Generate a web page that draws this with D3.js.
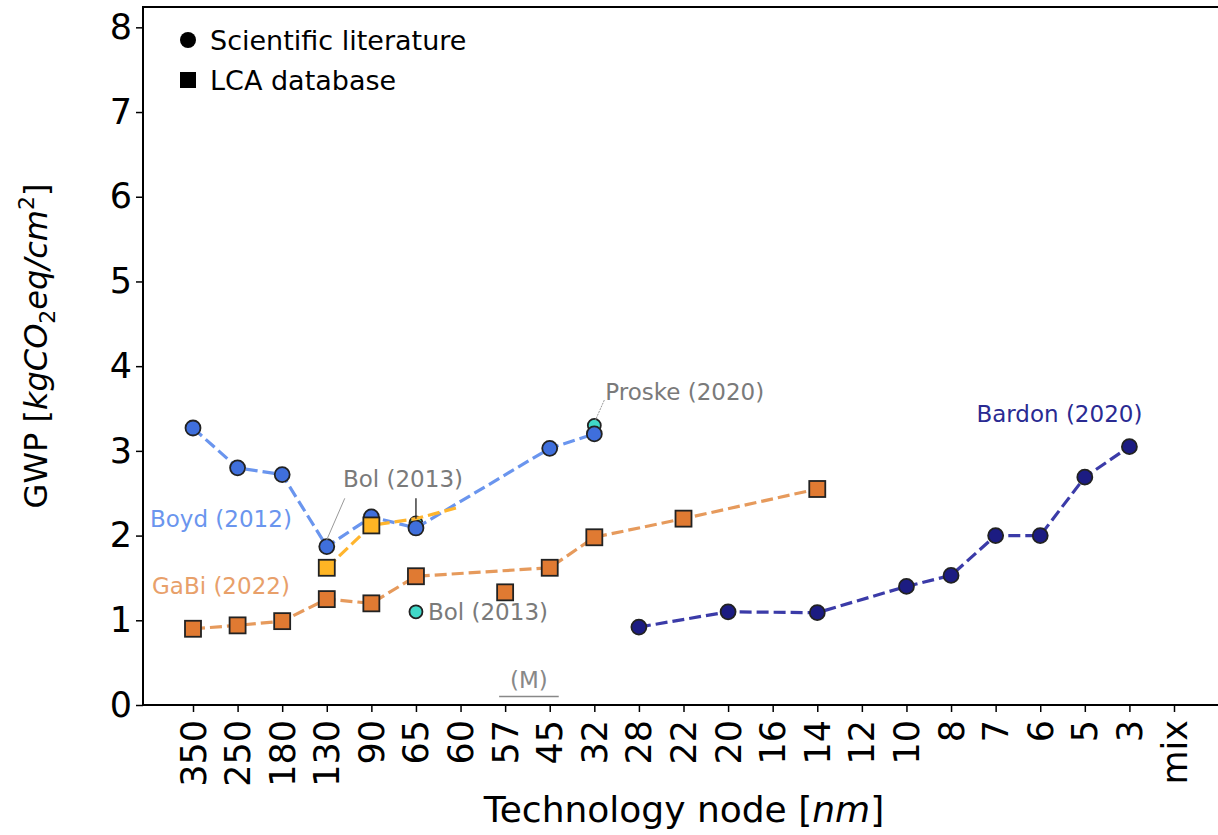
<!DOCTYPE html>
<html>
<head>
<meta charset="utf-8">
<script src="https://cdn.jsdelivr.net/npm/d3@7"></script>
<style>
  body { margin: 0; background: #fff; }
  svg { display: block; font-family: "DejaVu Sans", sans-serif; }
</style>
</head>
<body>
<div id="chart"></div>
<script>
const nodes = ["350","250","180","130","90","65","60","57","45","32","28","22","20","16","14","12","10","8","7","6","5","3","mix"];
const yTicks = [0, 1, 2, 3, 4, 5, 6, 7, 8];

// Boyd (2012), scientific literature
const boydNodes = ["350","250","180","130","90","65","45","32"];
const boydValues = [3.27, 2.80, 2.72, 1.87, 2.22, 2.09, 3.03, 3.20];

// Bol (2013), LCA database (yellow)
const bolDbNodes = ["130","90","65","60"];
const bolDbValues = [1.62, 2.12, 2.20, 2.34];
const bolDbMarked = ["130","90"];

// GaBi (2022), LCA database
const gabiNodes = ["350","250","180","130","90","65","45","32","22","14"];
const gabiValues = [0.90, 0.94, 0.99, 1.25, 1.20, 1.52, 1.62, 1.98, 2.20, 2.55];

// (M) point
const mNodes = ["57"];
const mValues = [1.33];

// Bardon (2020), scientific literature
const bardonNodes = ["28","20","14","10","8","7","6","5","3"];
const bardonValues = [0.92, 1.10, 1.09, 1.40, 1.53, 2.00, 2.00, 2.69, 3.05];

// Bol (2013) and Proske (2020), scientific literature (teal)
const bolLitNodes = ["65","65"];
const bolLitValues = [2.15, 1.10];
const proskeNodes = ["32"];
const proskeValues = [3.30];

const W = 1218, H = 835;
const mLeft = 143, mTop = 7, mBottom = 705;

const svg = d3.select("#chart").append("svg")
    .attr("width", W)
    .attr("height", H);

const x = d3.scalePoint()
    .domain(nodes)
    .range([193, 1174]);

const y = d3.scaleLinear()
    .domain([0, 8.24])
    .range([mBottom, mTop]);

const zip = (ns, vs) => ns.map((n, i) => ({ n, v: vs[i] }));

// Axes
const xAxis = svg.append("g")
    .attr("transform", `translate(0,${mBottom})`)
    .call(d3.axisBottom(x).tickSize(7).tickSizeOuter(0));
xAxis.select(".domain").remove();
xAxis.selectAll(".tick line").attr("stroke", "#000").attr("stroke-width", 1.5);
xAxis.selectAll(".tick text")
    .attr("font-size", 35)
    .attr("font-family", "DejaVu Sans")
    .attr("fill", "#000")
    .attr("text-anchor", "end")
    .attr("dy", null)
    .attr("y", null)
    .attr("dominant-baseline", "central")
    .attr("transform", "translate(0,15) rotate(-90)");

const yAxis = svg.append("g")
    .attr("transform", `translate(${mLeft},0)`)
    .call(d3.axisLeft(y).tickValues(yTicks).tickSize(7).tickSizeOuter(0).tickFormat(d3.format("d")));
yAxis.select(".domain").remove();
yAxis.selectAll(".tick line").attr("stroke", "#000").attr("stroke-width", 1.5);
yAxis.selectAll(".tick text")
    .attr("font-size", 35)
    .attr("font-family", "DejaVu Sans")
    .attr("fill", "#000")
    .attr("x", -11);

// Frame (left, top, bottom)
svg.append("path")
    .attr("d", `M${W + 5},${mTop}H${mLeft}V${mBottom}H${W + 5}`)
    .attr("fill", "none")
    .attr("stroke", "#000")
    .attr("stroke-width", 2);

// Axis labels
svg.append("text")
    .attr("x", 684)
    .attr("y", 822)
    .attr("text-anchor", "middle")
    .attr("font-size", 36)
    .html('Technology node [<tspan font-style="italic">nm</tspan>]');

svg.append("text")
    .attr("transform", "translate(47,346) rotate(-90)")
    .attr("text-anchor", "middle")
    .attr("font-size", 32)
    .html('GWP [<tspan font-style="italic">kgCO</tspan><tspan font-size="22" dy="8">2</tspan>' +
          '<tspan font-style="italic" dy="-8">eq/cm</tspan><tspan font-size="22" dy="-13">2</tspan><tspan dy="13">]</tspan>');

const line = d3.line().x(d => x(d.n)).y(d => y(d.v));

function drawLine(ns, vs, color) {
  svg.append("path")
      .datum(zip(ns, vs))
      .attr("d", line)
      .attr("fill", "none")
      .attr("stroke", color)
      .attr("stroke-width", 3.2)
      .attr("stroke-dasharray", "12,5");
}

function drawSquares(ns, vs, color) {
  svg.append("g").selectAll("rect")
    .data(zip(ns, vs))
    .join("rect")
      .attr("x", d => x(d.n) - 8)
      .attr("y", d => y(d.v) - 8)
      .attr("width", 16)
      .attr("height", 16)
      .attr("fill", color)
      .attr("stroke", "#222")
      .attr("stroke-width", 1.8);
}

function drawCircles(ns, vs, color, r = 7.5) {
  svg.append("g").selectAll("circle")
    .data(zip(ns, vs))
    .join("circle")
      .attr("cx", d => x(d.n))
      .attr("cy", d => y(d.v))
      .attr("r", r)
      .attr("fill", color)
      .attr("stroke", "#222")
      .attr("stroke-width", 1.8);
}

// GaBi
drawLine(gabiNodes, gabiValues, "#e69a5c");
drawSquares(gabiNodes, gabiValues, "#e07a32");
drawSquares(mNodes, mValues, "#e07a32");

// Teal literature points (behind Boyd)
drawCircles(bolLitNodes, bolLitValues, "#40d8c8", 6.5);
drawCircles(proskeNodes, proskeValues, "#40d8c8", 6.5);

// Boyd
drawLine(boydNodes, boydValues, "#6a95ee");
drawCircles(boydNodes, boydValues, "#3f6fdc");

// Bol database
drawLine(bolDbNodes, bolDbValues, "#ffb52e");
drawSquares(bolDbMarked, bolDbMarked.map(n => bolDbValues[bolDbNodes.indexOf(n)]), "#ffb524");

// Bardon
drawLine(bardonNodes, bardonValues, "#3b3ba8");
drawCircles(bardonNodes, bardonValues, "#1c1c82");

// Annotations
function label(txt, px, py, color, anchor = "start") {
  svg.append("text")
      .attr("x", px)
      .attr("y", py)
      .attr("text-anchor", anchor)
      .attr("font-size", 23)
      .attr("fill", color)
      .text(txt);
}

label("Boyd (2012)", x("350") - 43, y(2.1), "#6a95ee");
label("GaBi (2022)", x("350") - 41, y(1.31), "#e8a06a");
label("Bol (2013)", x("65") - 73, y(2.57), "#7a7a7a");
label("Bol (2013)", x("65") + 12, y(1.1) + 8, "#7a7a7a");
label("Proske (2020)", x("32") + 11, y(3.6), "#7a7a7a");
label("Bardon (2020)", x("3") - 153, y(3.34), "#2a2a92");

// leader lines
svg.append("line")
    .attr("x1", x("130") + 18).attr("y1", y(2.44))
    .attr("x2", x("130")).attr("y2", y(1.95))
    .attr("stroke", "#999").attr("stroke-width", 1);
svg.append("line")
    .attr("x1", x("65")).attr("y1", y(2.44))
    .attr("x2", x("65")).attr("y2", y(2.2))
    .attr("stroke", "#222").attr("stroke-width", 1.3);
svg.append("line")
    .attr("x1", x("32") + 10).attr("y1", y(3.6))
    .attr("x2", x("32") + 1).attr("y2", y(3.36))
    .attr("stroke", "#999").attr("stroke-width", 1)
    .attr("stroke-dasharray", "2,1");

// (M) bracket
const mx0 = x("57") - 6, mx1 = x("45") + 9;
label("(M)", (mx0 + mx1) / 2, y(0.2), "#888", "middle");
svg.append("line")
    .attr("x1", mx0).attr("x2", mx1)
    .attr("y1", y(0.1)).attr("y2", y(0.1))
    .attr("stroke", "#888").attr("stroke-width", 1.5);

// Legend
const legend = svg.append("g").attr("transform", `translate(188,40)`);
legend.append("circle").attr("r", 8).attr("fill", "#000");
legend.append("rect").attr("x", -8).attr("y", 32).attr("width", 16).attr("height", 16).attr("fill", "#000");
legend.append("text").attr("x", 22).attr("y", 10).attr("font-size", 27).text("Scientific literature");
legend.append("text").attr("x", 22).attr("y", 50).attr("font-size", 27).text("LCA database");
</script>
</body>
</html>
